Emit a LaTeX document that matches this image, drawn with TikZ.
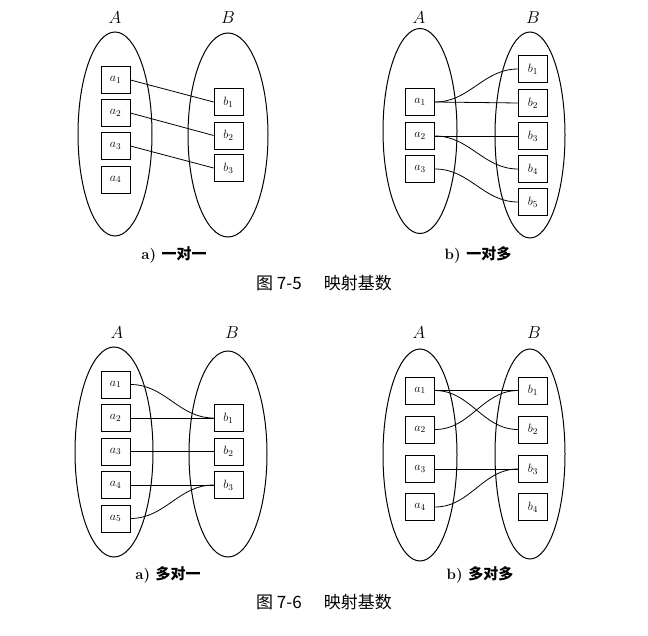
\documentclass[tikz,border=0pt]{standalone}
\usepackage{fontspec}
\newfontfamily\cjk{Noto Sans CJK SC}
\usetikzlibrary{shapes.geometric}

\begin{document}
\begin{tikzpicture}[x=1pt,y=-1pt,line width=0.8pt,
  set/.style={draw,ellipse,line width=1pt,inner sep=0pt},
  elem/.style={draw,minimum width=29pt,minimum height=27pt,inner sep=0pt,font=\fontsize{13}{15}\selectfont},
  setname/.style={font=\fontsize{16}{18}\selectfont},
  subcap/.style={font=\fontsize{15}{17}\selectfont\bfseries},
  figcap/.style={font=\fontsize{17}{19}\selectfont\cjk}]
\useasboundingbox (0,0) rectangle (648,636);
% a) one to one
\node[set,minimum width=74pt,minimum height=204pt] (pSA) at (115,134) {};
\node[set,minimum width=80pt,minimum height=204pt] (pSB) at (228,135) {};
\node[setname] (pLA) at (115,18) {$A$};
\node[setname] (pLB) at (228,18) {$B$};
\node[elem] (pa1) at (115.5,80) {$a_1$};
\node[elem] (pa2) at (115.5,113) {$a_2$};
\node[elem] (pa3) at (115.5,146) {$a_3$};
\node[elem] (pa4) at (115.5,179.5) {$a_4$};
\node[elem] (pb1) at (228.5,102) {$b_1$};
\node[elem] (pb2) at (228.5,135.5) {$b_2$};
\node[elem] (pb3) at (228.5,168) {$b_3$};
\draw (pa1.east) -- (pb1.west);
\draw (pa2.east) -- (pb2.west);
\draw (pa3.east) -- (pb3.west);
\node[subcap] (pcap) at (174,255) {a) {\cjk 一对一}};
% b) one to many
\node[set,minimum width=74pt,minimum height=205pt] (qSA) at (420,131) {};
\node[set,minimum width=70pt,minimum height=206pt] (qSB) at (530,135) {};
\node[setname] (qLA) at (419,18) {$A$};
\node[setname] (qLB) at (533,18) {$B$};
\node[elem] (qa1) at (420,102) {$a_1$};
\node[elem] (qa2) at (420,136) {$a_2$};
\node[elem] (qa3) at (420,169) {$a_3$};
\node[elem] (qb1) at (533,69) {$b_1$};
\node[elem] (qb2) at (533,103) {$b_2$};
\node[elem] (qb3) at (533,136) {$b_3$};
\node[elem] (qb4) at (533,169) {$b_4$};
\node[elem] (qb5) at (533,202) {$b_5$};
\draw (qa1.east) to[out=0,in=180] (qb1.west);
\draw (qa1.east) -- (qb2.west);
\draw (qa2.east) -- (qb3.west);
\draw (qa2.east) to[out=0,in=180] (qb4.west);
\draw (qa3.east) to[out=0,in=180] (qb5.west);
\node[subcap] (qcap) at (478,255) {b) {\cjk 一对多}};
\node[figcap] (cap5) at (324,283) {图 7-5\hspace{1.3em}映射基数};
% a) many to one
\node[set,minimum width=78pt,minimum height=210pt] (rSA) at (114,452) {};
\node[set,minimum width=78pt,minimum height=206pt] (rSB) at (228,454) {};
\node[setname] (rLA) at (117,333) {$A$};
\node[setname] (rLB) at (232,333) {$B$};
\node[elem] (ra1) at (115.5,384.5) {$a_1$};
\node[elem] (ra2) at (115.5,418) {$a_2$};
\node[elem] (ra3) at (115.5,451.5) {$a_3$};
\node[elem] (ra4) at (115.5,485) {$a_4$};
\node[elem] (ra5) at (115.5,518.5) {$a_5$};
\node[elem] (rb1) at (228.5,418) {$b_1$};
\node[elem] (rb2) at (228.5,451.5) {$b_2$};
\node[elem] (rb3) at (228.5,485) {$b_3$};
\draw (ra1.east) to[out=0,in=180] (rb1.west);
\draw (ra2.east) -- (rb1.west);
\draw (ra3.east) -- (rb2.west);
\draw (ra4.east) -- (rb3.west);
\draw (ra5.east) to[out=0,in=180] (rb3.west);
\node[subcap] (rcap) at (168,575) {a) {\cjk 多对一}};
% b) many to many
\node[set,minimum width=74pt,minimum height=212pt] (sSA) at (420,455) {};
\node[set,minimum width=70pt,minimum height=210pt] (sSB) at (530,454) {};
\node[setname] (sLA) at (419,333) {$A$};
\node[setname] (sLB) at (534,333) {$B$};
\node[elem] (sa1) at (420,390.5) {$a_1$};
\node[elem] (sa2) at (420,429.5) {$a_2$};
\node[elem] (sa3) at (420,469) {$a_3$};
\node[elem] (sa4) at (420,507) {$a_4$};
\node[elem] (sb1) at (533,390.5) {$b_1$};
\node[elem] (sb2) at (533,429.5) {$b_2$};
\node[elem] (sb3) at (533,469) {$b_3$};
\node[elem] (sb4) at (533,507) {$b_4$};
\draw (sa1.east) -- (sb1.west);
\draw (sa1.east) to[out=0,in=180] (sb2.west);
\draw (sa2.east) to[out=0,in=180] (sb1.west);
\draw (sa3.east) -- (sb3.west);
\draw (sa4.east) to[out=0,in=180] (sb3.west);
\node[subcap] (scap) at (480,575) {b) {\cjk 多对多}};
\node[figcap] (cap6) at (324,602) {图 7-6\hspace{1.3em}映射基数};
\end{tikzpicture}
\end{document}
